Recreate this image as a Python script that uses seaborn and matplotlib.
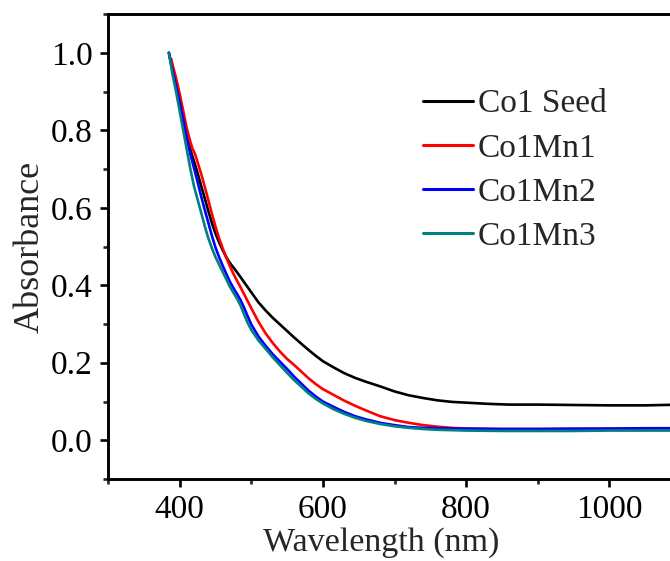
import matplotlib
matplotlib.use("Agg")
import matplotlib.pyplot as plt
import seaborn as sns
import pandas as pd
from matplotlib.ticker import MultipleLocator

# Normalised UV-vis absorbance spectra (wavelength in nm)
seed_wl = [385, 390, 395, 400, 405, 410, 415, 420, 425, 430, 435, 440, 445, 450, 455,
           460, 465, 470, 475, 480, 485, 490, 495, 500, 510, 520, 530, 540, 550, 560,
           570, 580, 590, 600, 615, 630, 645, 660, 680, 700, 720, 740, 760, 780, 800,
           830, 860, 900, 950, 1000, 1050, 1100]
seed_abs = [1.000, 0.955, 0.915, 0.872, 0.825, 0.783, 0.750, 0.720, 0.690, 0.657,
            0.625, 0.592, 0.561, 0.534, 0.511, 0.491, 0.473, 0.458, 0.446, 0.434,
            0.421, 0.408, 0.395, 0.382, 0.356, 0.335, 0.316, 0.299, 0.282, 0.265,
            0.249, 0.233, 0.218, 0.204, 0.188, 0.173, 0.161, 0.151, 0.139, 0.126,
            0.116, 0.109, 0.103, 0.099, 0.097, 0.094, 0.092, 0.092, 0.091, 0.090,
            0.090, 0.092]

mn1_wl = [388, 390, 395, 400, 405, 410, 415, 418, 420, 422, 425, 430, 435, 440, 445,
          450, 455, 460, 465, 470, 475, 480, 485, 490, 495, 500, 510, 520, 530, 540,
          550, 560, 570, 580, 590, 600, 615, 630, 645, 660, 680, 700, 720, 740, 760,
          780, 800, 850, 900, 950, 1000, 1050, 1100]
mn1_abs = [0.985, 0.970, 0.935, 0.895, 0.850, 0.805, 0.770, 0.752, 0.745, 0.736,
           0.718, 0.688, 0.655, 0.620, 0.585, 0.552, 0.522, 0.496, 0.472, 0.450,
           0.430, 0.412, 0.395, 0.377, 0.359, 0.341, 0.306, 0.276, 0.251, 0.229,
           0.210, 0.194, 0.177, 0.160, 0.145, 0.132, 0.117, 0.102, 0.089, 0.077,
           0.062, 0.052, 0.045, 0.039, 0.035, 0.032, 0.030, 0.029, 0.029, 0.029,
           0.030, 0.030, 0.031]

mn2_wl = [385, 390, 395, 400, 405, 410, 415, 420, 425, 430, 435, 440, 445, 450, 455,
          460, 465, 470, 475, 480, 485, 490, 495, 500, 510, 520, 530, 540, 550, 560,
          570, 580, 590, 600, 615, 630, 645, 660, 680, 700, 720, 740, 760, 780, 800,
          850, 900, 950, 1000, 1050, 1100]
mn2_abs = [1.000, 0.955, 0.915, 0.873, 0.828, 0.778, 0.738, 0.703, 0.667, 0.630,
           0.595, 0.562, 0.528, 0.498, 0.473, 0.451, 0.430, 0.410, 0.393, 0.378,
           0.362, 0.342, 0.320, 0.299, 0.268, 0.244, 0.222, 0.203, 0.184, 0.164,
           0.146, 0.128, 0.113, 0.100, 0.086, 0.073, 0.062, 0.054, 0.045, 0.039,
           0.034, 0.032, 0.031, 0.030, 0.030, 0.029, 0.029, 0.030, 0.030, 0.031,
           0.031]

mn3_wl = [385, 390, 395, 400, 405, 410, 415, 418, 420, 425, 430, 435, 440, 445, 450,
          455, 460, 465, 470, 475, 480, 485, 490, 495, 500, 510, 520, 530, 540, 550,
          560, 570, 580, 590, 600, 615, 630, 645, 660, 680, 700, 720, 740, 760, 780,
          800, 850, 900, 950, 1000, 1050, 1100]
mn3_abs = [1.000, 0.945, 0.900, 0.850, 0.800, 0.750, 0.700, 0.674, 0.656, 0.622,
           0.588, 0.553, 0.522, 0.496, 0.473, 0.454, 0.435, 0.416, 0.397, 0.381,
           0.366, 0.348, 0.325, 0.303, 0.285, 0.258, 0.236, 0.214, 0.194, 0.174,
           0.155, 0.138, 0.121, 0.107, 0.095, 0.080, 0.068, 0.058, 0.050, 0.042,
           0.036, 0.032, 0.029, 0.027, 0.026, 0.025, 0.024, 0.024, 0.024, 0.025,
           0.025, 0.025]

labels = ["Co1 Seed", "Co1Mn1", "Co1Mn2", "Co1Mn3"]
colors = ["#000000", "#ff0000", "#0000ff", "#008080"]

frames = []
for name, wl, ab in zip(labels, [seed_wl, mn1_wl, mn2_wl, mn3_wl],
                        [seed_abs, mn1_abs, mn2_abs, mn3_abs]):
    frames.append(pd.DataFrame({"Wavelength": wl, "Absorbance": ab, "Sample": name}))
df = pd.concat(frames, ignore_index=True)

sns.set_theme(style="ticks")
plt.rcParams["font.family"] = ["Liberation Serif", "DejaVu Serif"]

fig = plt.figure(figsize=(6.70, 5.61), dpi=100)
ax = fig.add_axes([108 / 670, 82 / 561, 573 / 670, 465 / 561])

sns.lineplot(data=df, x="Wavelength", y="Absorbance", hue="Sample",
             hue_order=labels, palette=colors, estimator=None, sort=False,
             linewidth=1.9, ax=ax)

ax.set_xlim(300, 1100)
ax.set_ylim(-0.1, 1.1)
ax.xaxis.set_major_locator(MultipleLocator(200))
ax.xaxis.set_minor_locator(MultipleLocator(100))
ax.yaxis.set_major_locator(MultipleLocator(0.2))
ax.yaxis.set_minor_locator(MultipleLocator(0.1))
ax.set_yticks([0.0, 0.2, 0.4, 0.6, 0.8, 1.0])
ax.set_xticks([400, 600, 800, 1000])

for side in ["top", "left", "bottom", "right"]:
    ax.spines[side].set_linewidth(2.1)
    ax.spines[side].set_color("black")

ax.tick_params(axis="both", which="major", direction="out", length=6, width=1.9,
               labelsize=24, pad=5, colors="black")
ax.tick_params(axis="both", which="minor", direction="out", length=3.5, width=1.9)
ax.tick_params(top=False, right=False, which="both")

ax.set_xlabel("Wavelength (nm)", fontsize=24.5, labelpad=2)
ax.xaxis.label.set_x(0.476)
ax.set_ylabel("Absorbance", fontsize=26, labelpad=3)

leg = ax.legend(loc="upper left", bbox_to_anchor=(423 / 670, 1 - 89 / 561),
                bbox_transform=fig.transFigure, frameon=False, fontsize=24,
                handlelength=1.5, handletextpad=0.15, labelspacing=0.41,
                borderpad=0, borderaxespad=0)
for line in leg.get_lines():
    line.set_linewidth(2.2)

fig.savefig("out.png", dpi=100)
